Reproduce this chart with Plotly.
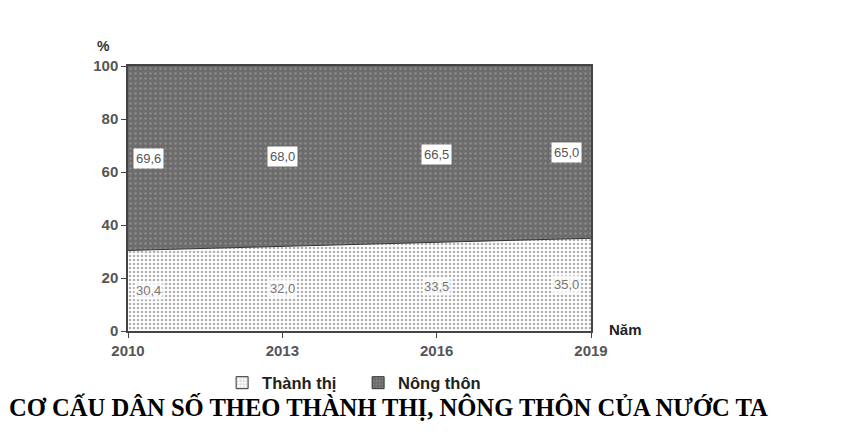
import plotly.graph_objects as go

# Du lieu co cau dan so (%)
years = [2010, 2013, 2016, 2019]
thanh_thi = [30.4, 32.0, 33.5, 35.0]
nong_thon = [69.6, 68.0, 66.5, 65.0]
year_labels = ["2010", "2013", "2016", "2019"]
y_ticks = [0, 20, 40, 60, 80, 100]

urban_pat = dict(shape=".", fgcolor="#666666", bgcolor="white", size=4, solidity=0.35)
rural_pat = dict(shape=".", fgcolor="#a8a8a8", bgcolor="#6c6c6c", size=5, solidity=0.2)

fig = go.Figure()

fig.add_trace(go.Scatter(
    x=years, y=thanh_thi, name="Thành thị", stackgroup="one", showlegend=False,
    mode="lines", line=dict(color="#333333", width=1),
    fillcolor="white", fillpattern=urban_pat,
))
fig.add_trace(go.Scatter(
    x=years, y=nong_thon, name="Nông thôn", stackgroup="one", showlegend=False,
    mode="lines", line=dict(color="#555555", width=0.5),
    fillcolor="#6c6c6c", fillpattern=rural_pat,
))

# chu giai (o vuong)
fig.add_trace(go.Bar(x=[None], y=[None], name="<b>Thành thị</b>",
                     marker=dict(color="white", line=dict(color="#333333", width=1),
                                 pattern=dict(shape="+", fgcolor="#555555", bgcolor="white", size=4))))
fig.add_trace(go.Bar(x=[None], y=[None], name="<b>Nông thôn</b>",
                     marker=dict(color="#6c6c6c", line=dict(color="#333333", width=1),
                                 pattern=dict(shape=".", fgcolor="#aaaaaa", bgcolor="#6c6c6c", size=4))))

# nhan gia tri
shifts = [20, 0, 0, -25]
for i, yr in enumerate(years):
    fig.add_annotation(x=yr, y=thanh_thi[i] / 2, text=f"{thanh_thi[i]:.1f}".replace(".", ","),
                       showarrow=False, xshift=shifts[i],
                       font=dict(family="Arial", size=13, color="#777777"),
                       bgcolor="rgba(255,255,255,0.75)")
    fig.add_annotation(x=yr, y=thanh_thi[i] + nong_thon[i] / 2, text=f"{nong_thon[i]:.1f}".replace(".", ","),
                       showarrow=False, xshift=shifts[i],
                       font=dict(family="Arial", size=13, color="#555555"),
                       bgcolor="white", borderpad=2)

fig.add_annotation(x=0, y=1.0, xref="paper", yref="paper", text="<b>%</b>", showarrow=False,
                   xanchor="right", yanchor="bottom", xshift=-16, yshift=10,
                   font=dict(family="Arial", size=14, color="#333333"))
fig.add_annotation(x=1.0, y=0, xref="paper", yref="paper", text="<b>Năm</b>", showarrow=False,
                   xanchor="left", yanchor="middle", xshift=16, yshift=2,
                   font=dict(family="Arial", size=15, color="#222222"))
fig.add_annotation(x=0, y=0, xref="paper", yref="paper",
                   text="<b>CƠ CẤU DÂN SỐ THEO THÀNH THỊ, NÔNG THÔN CỦA NƯỚC TA</b>",
                   showarrow=False, xanchor="left", yanchor="middle", xshift=-121, yshift=-76,
                   font=dict(family="Liberation Serif", size=24.6, color="black"))

fig.update_layout(
    width=843, height=434,
    margin=dict(l=120, r=260, t=58, b=111),
    plot_bgcolor="white", paper_bgcolor="white",
    font=dict(family="Arial", size=15, color="#555555"),
    legend=dict(orientation="h", x=0.497, xanchor="center", y=-0.13, yanchor="top",
                traceorder="normal", entrywidth=91, entrywidthmode="pixels",
                font=dict(family="Arial", size=16.5, color="#222222")),
    showlegend=True,
)
fig.update_xaxes(range=[2010, 2019], tickvals=years, ticktext=[f"<b>{t}</b>" for t in year_labels],
                 showline=True, linecolor="#444444", linewidth=1.5, mirror=True,
                 ticks="outside", ticklen=5, tickcolor="#444444", showgrid=False, zeroline=False)
fig.update_yaxes(range=[0, 100], tickvals=y_ticks, ticktext=[f"<b>{t}</b>" for t in y_ticks],
                 showline=True, linecolor="#444444", linewidth=1.5, mirror=True,
                 ticks="outside", ticklen=5, tickcolor="#444444", showgrid=False, zeroline=False)

fig.write_html("out.html")
